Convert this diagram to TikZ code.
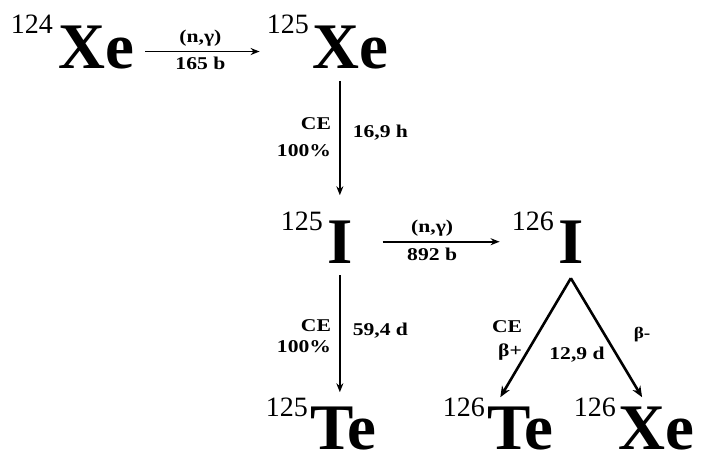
\documentclass[tikz,border=0pt]{standalone}
\usepackage{fontspec}
\setmainfont{Liberation Serif}
\newfontfamily\labfont[FakeStretch=1.2]{Liberation Serif}
\usetikzlibrary{arrows.meta}
\begin{document}
\begin{tikzpicture}[x=1pt,y=-1pt,
 sym/.style={inner sep=0pt,anchor=base west,font=\fontsize{65}{65}\selectfont\bfseries},
 mass/.style={inner sep=0pt,anchor=base east,font=\fontsize{28}{28}\selectfont},
 lab/.style={inner sep=0pt,font=\labfont\fontsize{18}{18}\selectfont\bfseries},
 slab/.style={inner sep=0pt,font=\labfont\fontsize{18}{18}\selectfont\bfseries},
 arr/.style={-{Stealth[length=9pt,width=7pt]},line width=1.8pt},
 darr/.style={-{Stealth[length=11pt,width=9pt]},line width=2.6pt},
]
\useasboundingbox (0,0) rectangle (704,459);
% nuclides
\node[sym] (xe124) at (58,68) {Xe};
\node[mass] (m124xe) at ([xshift=-5pt,yshift=35pt]xe124.base west) {124};
\node[sym] (xe125) at (312,68) {Xe};
\node[mass] (m125xe) at ([xshift=-3pt,yshift=35pt]xe125.base west) {125};
\node[sym] (i125) at (327,263) {I};
\node[mass] (m125i) at ([xshift=-4pt,yshift=33pt]i125.base west) {125};
\node[sym] (i126) at (558,263) {I};
\node[mass] (m126i) at ([xshift=-4pt,yshift=33pt]i126.base west) {126};
\node[sym] (te125) at (310,449) {Te};
\node[mass] (m125te) at ([xshift=-2pt,yshift=33pt]te125.base west) {125};
\node[sym] (te126) at (487,449) {Te};
\node[mass] (m126te) at ([xshift=-2pt,yshift=33pt]te126.base west) {126};
\node[sym] (xe126) at (618,449) {Xe};
\node[mass] (m126xe) at ([xshift=-2pt,yshift=33pt]xe126.base west) {126};
% reactions
\draw[arr,shorten <=11pt,shorten >=7pt] ([yshift=-4.5pt]xe124.east) -- ([yshift=-4.5pt]xe124.east -| m125xe.west)
  node[slab,midway,above=4pt] (l1a) {(n,γ)} node[slab,midway,below=5pt] (l1b) {165 b};
\draw[arr,shorten <=12pt,shorten >=25pt] (i125.north |- xe125.south) -- (i125.north)
  node[lab,pos=0.45,left=8pt,align=right,font=\labfont\fontsize{18}{27}\selectfont\bfseries] (l2a) {CE\\100\%}
  node[lab,pos=0.42,right=12pt] (l2b) {16,9 h};
\draw[arr,shorten <=30pt,shorten >=12pt] (i125.east) -- (i125.east -| m126i.west)
  node[slab,midway,above=4pt] (l3a) {(n,γ)} node[slab,midway,below=5pt] (l3b) {892 b};
\draw[arr,shorten <=12pt,shorten >=14pt] (i125.south) -- (i125.south |- te125.north)
  node[lab,pos=0.51,left=8pt,align=right,font=\labfont\fontsize{18}{21}\selectfont\bfseries] (l4a) {CE\\100\%}
  node[lab,pos=0.47,right=12pt] (l4b) {59,4 d};
\draw[darr] ([yshift=-15pt]i126.south) -- ([xshift=-20pt,yshift=9pt]te126.north);
\draw[darr] ([yshift=-15pt]i126.south) -- ([xshift=-14pt,yshift=9pt]xe126.north);
\node[lab] (l5a) at (507,327) {CE};
\node[lab] (l5b) at (510,352) {β+};
\node[lab] (l5c) at (577,355) {12,9 d};
\node[lab,font=\labfont\fontsize{16}{16}\selectfont\bfseries] (l5d) at (642,335) {β-};
\end{tikzpicture}
\end{document}
